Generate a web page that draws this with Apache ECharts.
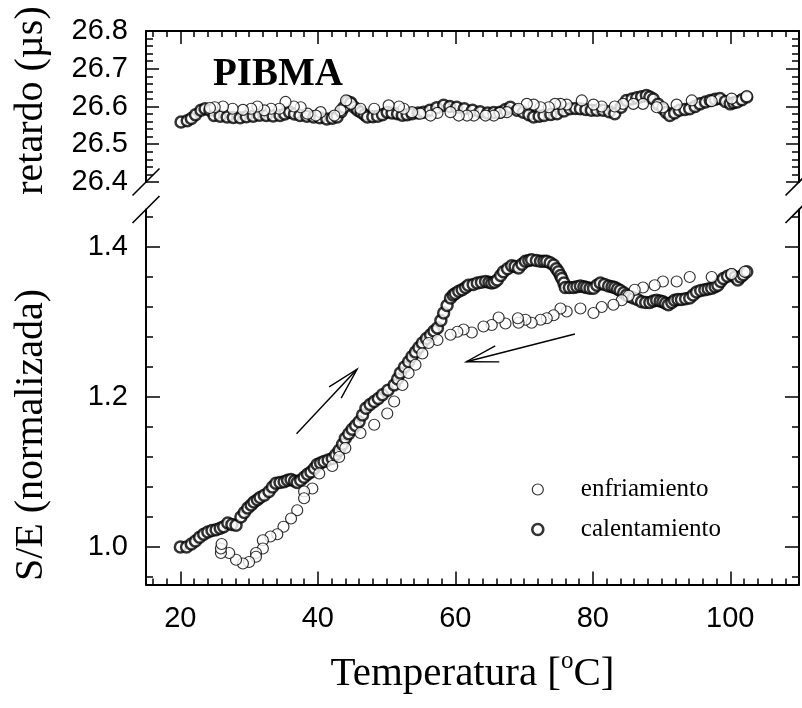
<!DOCTYPE html>
<html>
<head>
<meta charset="utf-8">
<script src="https://cdn.jsdelivr.net/npm/echarts@6/dist/echarts.min.js"></script>
<style>
  html, body { margin: 0; padding: 0; background: #fff; }
  #chart { width: 802px; height: 708px; }
</style>
</head>
<body>
<div id="chart"></div>
<script>
// Temperature axis ticks (°C)
const tempTicks = [20, 40, 60, 80, 100];
// Tick labels of the two vertical scales
const delayTicks = [26.4, 26.5, 26.6, 26.7, 26.8];
const ratioTicks = [1.0, 1.2, 1.4];

// Delay (µs) on heating and on cooling: [T, retardo]
const delayHeating = [
  [20.1, 26.559], [21.0, 26.562], [21.6, 26.568], [22.2, 26.578], [23.0, 26.590], [23.6, 26.594],
  [24.3, 26.590], [24.9, 26.576], [25.8, 26.574], [26.8, 26.572], [27.7, 26.571], [28.7, 26.570],
  [29.6, 26.573], [30.6, 26.574], [31.5, 26.577], [32.5, 26.576], [33.5, 26.575], [34.5, 26.576],
  [35.2, 26.580], [35.9, 26.585], [36.6, 26.580], [37.4, 26.576], [38.4, 26.574], [39.4, 26.572],
  [40.3, 26.570], [41.3, 26.567], [42.1, 26.569], [42.8, 26.572], [43.4, 26.586], [43.8, 26.598],
  [44.3, 26.613], [44.8, 26.610], [45.3, 26.598], [45.8, 26.590], [46.3, 26.585], [46.8, 26.578],
  [47.2, 26.572], [48.0, 26.573], [48.7, 26.574], [49.4, 26.578], [50.1, 26.585], [50.8, 26.583],
  [51.6, 26.581], [52.3, 26.577], [53.0, 26.578], [53.7, 26.581], [54.6, 26.583], [55.4, 26.585],
  [56.3, 26.590], [57.3, 26.597], [58.3, 26.603], [59.2, 26.600], [60.2, 26.598], [61.3, 26.594],
  [62.5, 26.590], [63.6, 26.586], [64.7, 26.583], [65.6, 26.584], [66.5, 26.585], [67.3, 26.592],
  [68.0, 26.598], [69.0, 26.590], [69.9, 26.585], [70.7, 26.578], [71.4, 26.572], [72.2, 26.574],
  [72.9, 26.576], [73.9, 26.579], [74.8, 26.581], [75.8, 26.588], [76.7, 26.594], [77.5, 26.595],
  [78.2, 26.594], [79.0, 26.592], [79.8, 26.590], [80.6, 26.590], [81.5, 26.590], [82.4, 26.586],
  [83.2, 26.581], [84.1, 26.598], [84.9, 26.616], [85.7, 26.620], [86.4, 26.623], [87.1, 26.626],
  [87.8, 26.629], [88.3, 26.625], [88.8, 26.620], [89.5, 26.606], [90.2, 26.594], [90.7, 26.584],
  [91.2, 26.576], [91.9, 26.583], [92.6, 26.590], [93.4, 26.592], [94.1, 26.594], [94.9, 26.600],
  [95.6, 26.607], [96.4, 26.612], [97.1, 26.616], [97.8, 26.619], [98.5, 26.621], [99.3, 26.613],
  [100.0, 26.607], [100.5, 26.610], [101.0, 26.612], [101.7, 26.618], [102.4, 26.625]
];
const delayCooling = [
  [102.4, 26.627], [100.2, 26.621], [97.3, 26.614], [94.4, 26.616], [92.2, 26.605], [90.2, 26.598],
  [89.3, 26.598], [87.3, 26.607], [85.9, 26.607], [84.4, 26.607], [83.2, 26.600], [81.3, 26.600],
  [80.1, 26.605], [78.4, 26.616], [76.2, 26.605], [75.3, 26.607], [74.5, 26.607], [73.6, 26.598],
  [72.4, 26.598], [71.4, 26.605], [70.4, 26.607], [69.2, 26.594], [67.5, 26.585], [66.5, 26.583],
  [65.6, 26.576], [64.4, 26.576], [62.7, 26.576], [61.7, 26.576], [60.5, 26.576], [59.3, 26.585],
  [57.4, 26.583], [56.4, 26.576], [54.9, 26.581], [53.7, 26.585], [52.5, 26.594], [51.8, 26.600],
  [50.3, 26.603], [48.2, 26.594], [46.2, 26.594], [44.8, 26.607], [44.1, 26.616], [43.3, 26.590],
  [42.4, 26.576], [40.4, 26.585], [39.7, 26.576], [38.5, 26.581], [37.5, 26.598], [36.5, 26.600],
  [35.3, 26.612], [34.4, 26.594], [33.2, 26.594], [32.2, 26.590], [31.2, 26.600], [30.3, 26.594],
  [29.1, 26.591], [27.6, 26.594], [26.2, 26.600], [25.0, 26.598], [24.3, 26.596]
];

// Normalised S/E on heating and on cooling: [T, S/E]
const ratioHeating = [
  [20.0, 1.000], [20.9, 1.000], [21.6, 1.004], [22.2, 1.008], [22.8, 1.013], [23.4, 1.017],
  [24.0, 1.020], [24.6, 1.022], [25.2, 1.023], [25.8, 1.025], [26.3, 1.027], [26.9, 1.032],
  [27.5, 1.030], [28.1, 1.029], [28.8, 1.040], [29.3, 1.046], [29.8, 1.052], [30.3, 1.056],
  [30.7, 1.060], [31.2, 1.063], [31.6, 1.066], [32.2, 1.069], [32.9, 1.074], [33.4, 1.080],
  [33.9, 1.085], [34.5, 1.086], [35.1, 1.087], [35.6, 1.089], [36.1, 1.090], [36.6, 1.088],
  [37.0, 1.086], [37.5, 1.089], [38.0, 1.093], [38.5, 1.097], [39.0, 1.100], [39.5, 1.105],
  [39.9, 1.110], [40.4, 1.112], [40.9, 1.114], [41.5, 1.116], [42.1, 1.118], [42.6, 1.123],
  [43.1, 1.129], [43.6, 1.137], [44.0, 1.145], [44.5, 1.151], [45.0, 1.157], [45.5, 1.162],
  [46.0, 1.167], [46.5, 1.176], [47.0, 1.185], [47.6, 1.190], [48.2, 1.194], [48.8, 1.198],
  [49.4, 1.203], [50.2, 1.209], [51.1, 1.216], [51.6, 1.224], [52.0, 1.232], [52.6, 1.240],
  [53.2, 1.247], [53.7, 1.254], [54.2, 1.260], [54.7, 1.266], [55.2, 1.272], [55.8, 1.278],
  [56.4, 1.283], [56.9, 1.288], [57.4, 1.292], [57.9, 1.302], [58.3, 1.312], [58.8, 1.322],
  [59.3, 1.332], [59.7, 1.336], [60.0, 1.338], [60.5, 1.341], [61.0, 1.343], [61.5, 1.346],
  [61.9, 1.349], [62.6, 1.350], [63.2, 1.352], [63.8, 1.353], [64.4, 1.354], [64.9, 1.353],
  [65.3, 1.352], [65.7, 1.353], [66.1, 1.356], [66.6, 1.362], [67.0, 1.367], [67.6, 1.371],
  [68.2, 1.375], [68.7, 1.374], [69.2, 1.372], [69.7, 1.377], [70.2, 1.381], [70.7, 1.382],
  [71.1, 1.383], [71.8, 1.382], [72.4, 1.381], [72.9, 1.381], [73.3, 1.381], [73.8, 1.379],
  [74.3, 1.376], [74.7, 1.371], [75.0, 1.367], [75.3, 1.362], [75.5, 1.358], [75.8, 1.352],
  [76.0, 1.346], [76.6, 1.346], [77.2, 1.346], [77.7, 1.347], [78.2, 1.348], [78.7, 1.347],
  [79.1, 1.346], [79.6, 1.345], [80.1, 1.345], [80.6, 1.349], [81.1, 1.352], [81.7, 1.350],
  [82.3, 1.348], [82.8, 1.347], [83.2, 1.346], [83.6, 1.344], [84.0, 1.342], [84.5, 1.339],
  [84.9, 1.336], [85.4, 1.334], [85.9, 1.332], [86.5, 1.330], [87.1, 1.327], [87.7, 1.326],
  [88.3, 1.326], [88.8, 1.328], [89.3, 1.329], [89.8, 1.328], [90.2, 1.327], [90.6, 1.325],
  [91.0, 1.323], [91.5, 1.326], [91.9, 1.329], [92.4, 1.330], [92.9, 1.330], [93.5, 1.331],
  [94.1, 1.332], [94.6, 1.336], [95.1, 1.340], [95.7, 1.342], [96.3, 1.343], [96.8, 1.344],
  [97.3, 1.345], [97.8, 1.347], [98.2, 1.349], [98.6, 1.354], [99.0, 1.358], [99.6, 1.361],
  [100.2, 1.363], [100.7, 1.360], [101.1, 1.356], [101.5, 1.360], [101.9, 1.363], [102.4, 1.367]
];
const ratioCooling = [
  [102.1, 1.367], [100.2, 1.364], [97.3, 1.360], [94.1, 1.360], [92.2, 1.354], [90.2, 1.354],
  [89.0, 1.349], [87.3, 1.346], [86.1, 1.343], [85.2, 1.335], [84.2, 1.329], [83.0, 1.323],
  [81.3, 1.320], [80.1, 1.312], [78.2, 1.318], [76.2, 1.314], [75.3, 1.318], [74.3, 1.309],
  [73.3, 1.305], [72.4, 1.303], [71.1, 1.299], [70.2, 1.303], [69.2, 1.299], [69.1, 1.305],
  [67.3, 1.298], [66.3, 1.306], [65.3, 1.296], [64.1, 1.294], [62.4, 1.286], [61.2, 1.290],
  [60.3, 1.287], [59.3, 1.283], [57.4, 1.276], [56.1, 1.272], [55.2, 1.258], [54.2, 1.243],
  [53.2, 1.232], [52.3, 1.216], [51.1, 1.194], [50.1, 1.178], [48.2, 1.163], [46.2, 1.152],
  [44.0, 1.132], [43.1, 1.120], [42.1, 1.108], [40.2, 1.098], [39.2, 1.078], [38.0, 1.074],
  [38.0, 1.065], [37.0, 1.049], [36.1, 1.038], [35.0, 1.027], [34.1, 1.017], [33.1, 1.014],
  [32.0, 1.009], [32.0, 0.998], [31.0, 0.992], [31.0, 0.987], [30.0, 0.980], [29.1, 0.978],
  [28.1, 0.983], [27.1, 0.992], [25.9, 0.992], [25.9, 0.998], [26.0, 1.004]
];

// Direction arrows in the S/E panel: [start, end] in data units
const arrowHeating = [[36.9, 1.151], [45.7, 1.237]];
const arrowCooling = [[77.4, 1.284], [61.6, 1.247]];

const SANS = "'Liberation Sans', Arial, sans-serif";
const SERIF = "'Liberation Serif', 'Times New Roman', serif";
const INK = '#000';

// minor tick positions between the labelled ticks
function minorValues(from, to, step, majors) {
  const out = [];
  const n = Math.round((to - from) / step);
  for (let i = 0; i <= n; i++) {
    const v = +(from + i * step).toFixed(4);
    if (!majors.some(m => Math.abs(m - v) < 1e-6)) out.push(v);
  }
  return out;
}
const tempMinor = minorValues(16, 108, 2, tempTicks);
const delayMinor = minorValues(26.42, 26.78, 0.02, delayTicks);
const ratioMinor = minorValues(0.96, 1.44, 0.04, ratioTicks);

const axisLineStyle = { show: true, lineStyle: { color: INK, width: 2 } };

function xAxis(grid, position, values, len, labels, extra) {
  return Object.assign({
    type: 'value', gridIndex: grid, position: position, min: 15, max: 110,
    axisLine: axisLineStyle,
    axisTick: { show: true, inside: true, length: len, customValues: values,
                lineStyle: { color: INK, width: 1.5 } },
    axisLabel: labels
      ? { show: true, customValues: values, margin: 20, color: INK,
          fontFamily: SANS, fontSize: 29 }
      : { show: false },
    splitLine: { show: false }
  }, extra || {});
}
function yAxis(grid, position, min, max, values, len, labels, extra) {
  return Object.assign({
    type: 'value', gridIndex: grid, position: position, min: min, max: max,
    axisLine: axisLineStyle,
    axisTick: { show: true, inside: true, length: len, customValues: values,
                lineStyle: { color: INK, width: 1.5 } },
    axisLabel: labels
      ? { show: true, customValues: values, margin: 18, color: INK,
          fontFamily: SANS, fontSize: 29, formatter: v => v.toFixed(1) }
      : { show: false },
    splitLine: { show: false }
  }, extra || {});
}

const axisNameStyle = { color: INK, fontFamily: SERIF, fontSize: 40 };

const chart = echarts.init(document.getElementById('chart'), null, { renderer: 'canvas' });

const symbolStyleCooling = { color: '#fff', borderColor: INK, borderWidth: 1.2 };
const symbolStyleHeating = { color: '#fff', borderColor: INK, borderWidth: 2.5 };

chart.setOption({
  animation: false,
  backgroundColor: '#fff',
  title: {
    text: 'PIBMA', left: 213, top: 55, padding: 0,
    textStyle: { fontFamily: SERIF, fontWeight: 'bold', fontSize: 39, color: INK }
  },
  legend: {
    data: [
      { name: 'enfriamiento', icon: 'circle',
        itemStyle: { color: '#fff', borderColor: INK, borderWidth: 1.2 } },
      { name: 'calentamiento', icon: 'circle',
        itemStyle: { color: '#fff', borderColor: INK, borderWidth: 2.6 } }
    ],
    orient: 'vertical', left: 531, top: 477, padding: 0,
    itemWidth: 76, itemHeight: 11, itemGap: 15,
    textStyle: { fontFamily: SERIF, fontSize: 25, color: INK, lineHeight: 25 },
    selectedMode: false
  },
  grid: [
    { left: 146, right: 3, top: 31, height: 151 },
    { left: 146, right: 3, top: 209.5, height: 375 }
  ],
  xAxis: [
    xAxis(0, 'top', tempTicks, 13, false),
    xAxis(0, 'top', tempMinor, 6, false, { axisLine: { show: false } }),
    xAxis(1, 'bottom', tempTicks, 13, true, {
      name: '{main|Temperatura [}{sup|o}{main|C]}', nameLocation: 'middle', nameGap: 64,
      nameTextStyle: Object.assign({}, axisNameStyle, {
        fontSize: 41,
        rich: {
          main: { fontFamily: SERIF, fontSize: 41, color: INK, lineHeight: 46, verticalAlign: 'bottom' },
          sup: { fontFamily: SERIF, fontSize: 25, color: INK, lineHeight: 25, verticalAlign: 'top' }
        }
      })
    }),
    xAxis(1, 'bottom', tempMinor, 6, false, { axisLine: { show: false } })
  ],
  yAxis: [
    yAxis(0, 'left', 26.4, 26.8, delayTicks, 13, true, {
      name: 'retardo (µs)', nameLocation: 'middle', nameGap: 95,
      nameTextStyle: Object.assign({}, axisNameStyle, { padding: [0, 0, 0, 12] })
    }),
    yAxis(0, 'left', 26.4, 26.8, delayMinor, 7, false, { axisLine: { show: false } }),
    yAxis(0, 'right', 26.4, 26.8, delayTicks, 13, false),
    yAxis(0, 'right', 26.4, 26.8, delayMinor, 7, false, { axisLine: { show: false } }),
    yAxis(1, 'left', 0.95, 1.45, ratioTicks, 14, true, {
      name: 'S/E (normalizada)', nameLocation: 'middle', nameGap: 95,
      nameTextStyle: Object.assign({}, axisNameStyle, { padding: [0, 76, 0, 0] })
    }),
    yAxis(1, 'left', 0.95, 1.45, ratioMinor, 7, false, { axisLine: { show: false } }),
    yAxis(1, 'right', 0.95, 1.45, ratioTicks, 14, false),
    yAxis(1, 'right', 0.95, 1.45, ratioMinor, 7, false, { axisLine: { show: false } })
  ],
  series: [
    { name: 'calentamiento', type: 'scatter', xAxisIndex: 0, yAxisIndex: 0,
      data: delayHeating, symbol: 'circle', symbolSize: 11, itemStyle: symbolStyleHeating },
    { name: 'enfriamiento', type: 'scatter', xAxisIndex: 0, yAxisIndex: 0,
      data: delayCooling, symbol: 'circle', symbolSize: 11, itemStyle: symbolStyleCooling },
    { name: 'calentamiento', type: 'scatter', xAxisIndex: 2, yAxisIndex: 4,
      data: ratioHeating, symbol: 'circle', symbolSize: 11, itemStyle: symbolStyleHeating },
    { name: 'enfriamiento', type: 'scatter', xAxisIndex: 2, yAxisIndex: 4,
      data: ratioCooling, symbol: 'circle', symbolSize: 11, itemStyle: symbolStyleCooling }
  ]
});

// Arrows and axis-break marks, placed through the axes' own scales
const toPxTop = p => chart.convertToPixel({ seriesIndex: 0 }, p);
const toPxBottom = p => chart.convertToPixel({ seriesIndex: 2 }, p);

function arrow(pair) {
  const a = toPxBottom(pair[0]);
  const b = toPxBottom(pair[1]);
  const back = Math.atan2(a[1] - b[1], a[0] - b[0]);
  const L = 33, half = 14.5 * Math.PI / 180;
  const p1 = [b[0] + L * Math.cos(back + half), b[1] + L * Math.sin(back + half)];
  const p2 = [b[0] + L * Math.cos(back - half), b[1] + L * Math.sin(back - half)];
  const style = { stroke: INK, lineWidth: 1.4, fill: null };
  return [
    { type: 'line', shape: { x1: a[0], y1: a[1], x2: b[0], y2: b[1] }, style: style },
    { type: 'polyline', shape: { points: [p1, b, p2] }, style: style }
  ];
}

function breakMark(c) {
  const d = 13.5;
  return { type: 'line', z: 10,
    shape: { x1: c[0] - d, y1: c[1] + d, x2: c[0] + d, y2: c[1] - d },
    style: { stroke: INK, lineWidth: 1.6 } };
}

const graphics = [].concat(
  arrow(arrowHeating),
  arrow(arrowCooling),
  [
    breakMark(toPxTop([15, 26.4])),
    breakMark(toPxBottom([15, 1.45])),
    breakMark(toPxTop([110, 26.4])),
    breakMark(toPxBottom([110, 1.45]))
  ]
);
chart.setOption({ graphic: graphics });
</script>
</body>
</html>
